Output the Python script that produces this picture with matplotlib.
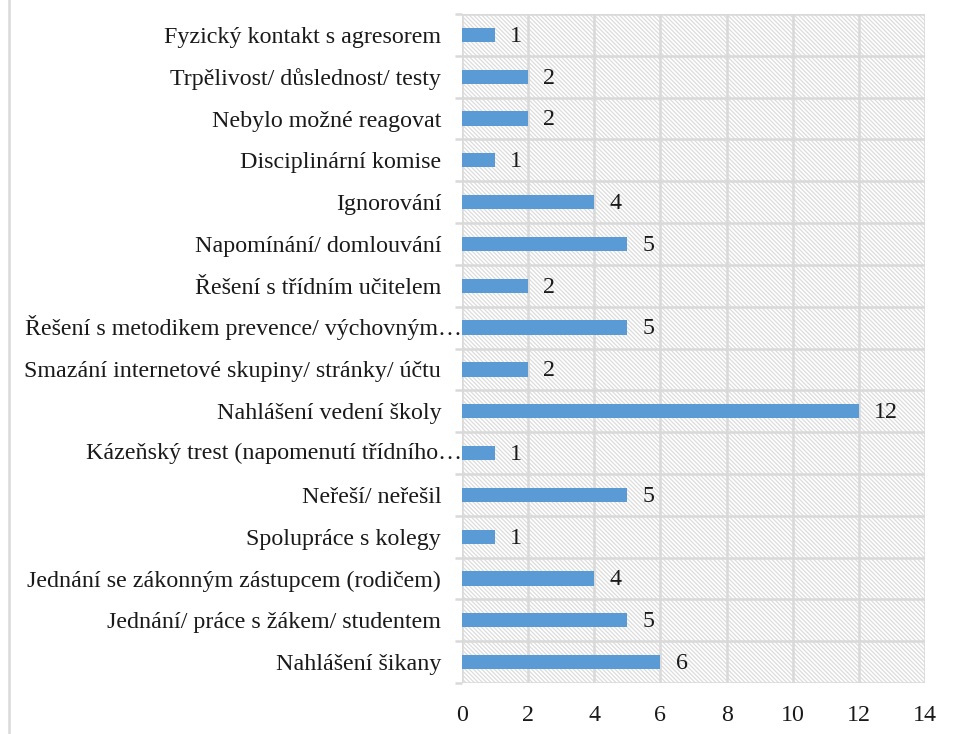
import matplotlib
matplotlib.use("Agg")
import matplotlib.pyplot as plt
from matplotlib.patches import Rectangle
from matplotlib.lines import Line2D

categories = [
    "Nahlášení šikany",
    "Jednání/ práce s žákem/ studentem",
    "Jednání se zákonným zástupcem (rodičem)",
    "Spolupráce s kolegy",
    "Neřeší/ neřešil",
    "Kázeňský trest (napomenutí třídního…",
    "Nahlášení vedení školy",
    "Smazání internetové skupiny/ stránky/ účtu",
    "Řešení s metodikem prevence/ výchovným…",
    "Řešení s třídním učitelem",
    "Napomínání/ domlouvání",
    "Ignorování",
    "Disciplinární komise",
    "Nebylo možné reagovat",
    "Trpělivost/ důslednost/ testy",
    "Fyzický kontakt s agresorem",
]
values = [6, 5, 4, 1, 5, 1, 12, 2, 5, 2, 5, 4, 1, 2, 2, 1]
xticks = [0, 2, 4, 6, 8, 10, 12, 14]

plt.rcParams['font.family'] = ['Liberation Serif', 'DejaVu Serif']
plt.rcParams['hatch.linewidth'] = 0.9
FS = 17.3
GRID = '#d9d9d9'
TXT = '#1a1a1a'

fig = plt.figure(figsize=(9.56, 7.34), dpi=100)
ax = fig.add_axes([462/956, 1 - 683/734, (925 - 462)/956, (683 - 14)/734])

# hatched background
bg = Rectangle((0, 0), 1, 1, transform=ax.transAxes, facecolor='white',
               edgecolor='#dcdcdc', linewidth=0, hatch='\\' * 8, zorder=0)
ax.add_patch(bg)

y = list(range(len(categories)))
bars = ax.barh(y, values, height=0.34, color='#5B9BD5', zorder=3)
for yi, v in zip(y, values):
    ax.annotate(str(v), (v, yi), xytext=(11, -1), textcoords='offset points',
                ha='left', va='center', fontsize=FS, color=TXT, zorder=4)

ax.set_xlim(0, 14)
ax.set_ylim(-0.5, len(categories) - 0.5)
ax.set_xticks(xticks)
ax.set_xticklabels([str(t) for t in xticks], fontsize=FS)
ax.set_yticks(y)
# truncated labels overflow up to the axis, as in the original
ax.set_yticklabels(['' if c.endswith('…') else c for c in categories], fontsize=FS)
for yi, c in zip(y, categories):
    if c.endswith('…'):
        ax.annotate(c, xy=(0, yi), xycoords=('axes fraction', 'data'),
                    xytext=(0, 0), textcoords='offset points',
                    ha='right', va='center', fontsize=FS, color=TXT,
                    annotation_clip=False)
ax.set_yticks([i - 0.5 for i in range(len(categories) + 1)], minor=True)

ax.tick_params(axis='x', length=0, pad=16, colors=TXT)
ax.tick_params(axis='y', which='major', length=0, pad=15, colors=TXT)
ax.tick_params(axis='y', which='minor', length=5, width=1.8, color=GRID)

for x in xticks:
    ax.axvline(x, color=GRID, lw=1.8, zorder=1)
for i in range(len(categories) + 1):
    ax.axhline(i - 0.5, color=GRID, lw=1.8, zorder=1)

for s in ax.spines.values():
    s.set_visible(False)

fig.add_artist(Line2D([9/956, 9/956], [0, 1], transform=fig.transFigure,
                      color=GRID, lw=1.8))

fig.savefig('out.png', dpi=100, facecolor='white')
